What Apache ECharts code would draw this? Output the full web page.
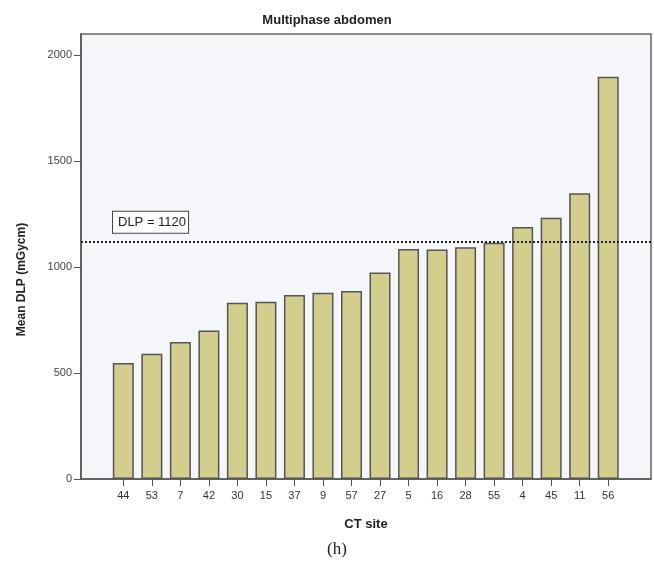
<!DOCTYPE html>
<html>
<head>
<meta charset="utf-8">
<script src="https://cdn.jsdelivr.net/npm/echarts@6/dist/echarts.min.js"></script>
<style>
  html, body { margin: 0; padding: 0; background: #fff; }
  #chart { width: 654px; height: 566px; }
</style>
</head>
<body>
<div id="chart"></div>
<script>
// CT sites, sorted by mean DLP
const sites = ['44', '53', '7', '42', '30', '15', '37', '9', '57', '27', '5', '16', '28', '55', '4', '45', '11', '56']
const meanDLP = [547, 591, 646, 701, 832, 836, 868, 879, 887, 975, 1085, 1083, 1094, 1115, 1189, 1233, 1348, 1898]
const yTicks = [0, 500, 1000, 1500, 2000]
const refDLP = 1120

const siteIdx = sites.map((s, i) => i)

echarts.init(document.getElementById('chart')).setOption({
	animation: false,
	title: [
		{
			text: 'Multiphase abdomen',
			left: 'center',
			top: 9,
			textStyle: { fontFamily: 'Liberation Sans', fontSize: 13, fontWeight: 'bold', color: '#222' }
		},
		{
			text: '(h)',
			left: 322,
			top: 536,
			textStyle: { fontFamily: 'Liberation Serif', fontSize: 17, fontWeight: 'normal', color: '#222' }
		}
	],
	grid: {
		left: 81,
		right: 3,
		top: 34,
		bottom: 87,
		show: true,
		backgroundColor: '#f4f6f9',
		borderColor: '#666',
		borderWidth: 1.5
	},
	xAxis: {
		type: 'value',
		min: -1.484,
		max: 18.5,
		name: 'CT site',
		nameLocation: 'middle',
		nameGap: 39,
		nameTextStyle: { fontFamily: 'Liberation Sans', fontSize: 13, fontWeight: 'bold', color: '#222' },
		axisLine: { onZero: false, lineStyle: { color: '#555', width: 1.5 } },
		axisTick: { show: true, length: 7, customValues: siteIdx, lineStyle: { color: '#555' } },
		axisLabel: {
			customValues: siteIdx,
			formatter: v => sites[v],
			margin: 11,
			fontFamily: 'Liberation Sans',
			fontSize: 11,
			color: '#333'
		},
		splitLine: { show: false }
	},
	yAxis: {
		type: 'value',
		min: 0,
		max: 2100,
		name: 'Mean DLP (mGycm)',
		nameLocation: 'middle',
		nameGap: 53,
		nameTextStyle: { fontFamily: 'Liberation Sans', fontSize: 12, fontWeight: 'bold', color: '#222', padding: [0, 46, 0, 0] },
		axisLine: { show: true, onZero: false, lineStyle: { color: '#555', width: 1.5 } },
		axisTick: { show: true, length: 7, customValues: yTicks, lineStyle: { color: '#555' } },
		axisLabel: {
			customValues: yTicks,
			formatter: v => String(v),
			margin: 9,
			fontFamily: 'Liberation Sans',
			fontSize: 11,
			color: '#444'
		},
		splitLine: { show: false }
	},
	series: [
		{
			type: 'bar',
			barWidth: 21,
			itemStyle: { color: '#d4ce8e', borderColor: '#555', borderWidth: 1.5 },
			data: sites.map((s, i) => [i, meanDLP[i]]),
			markLine: {
				silent: true,
				symbol: 'none',
				lineStyle: { type: [2, 2], color: '#222', width: 2 },
				label: {
					show: true,
					position: 'insideStartTop',
					distance: [32, 9],
					formatter: 'DLP = ' + refDLP,
					fontFamily: 'Liberation Sans',
					fontSize: 13,
					color: '#222',
					backgroundColor: '#fff',
					borderColor: '#444',
					borderWidth: 1,
					padding: [4, 2, 4, 5]
				},
				data: [{ yAxis: refDLP }]
			}
		}
	]
})
</script>
</body>
</html>
